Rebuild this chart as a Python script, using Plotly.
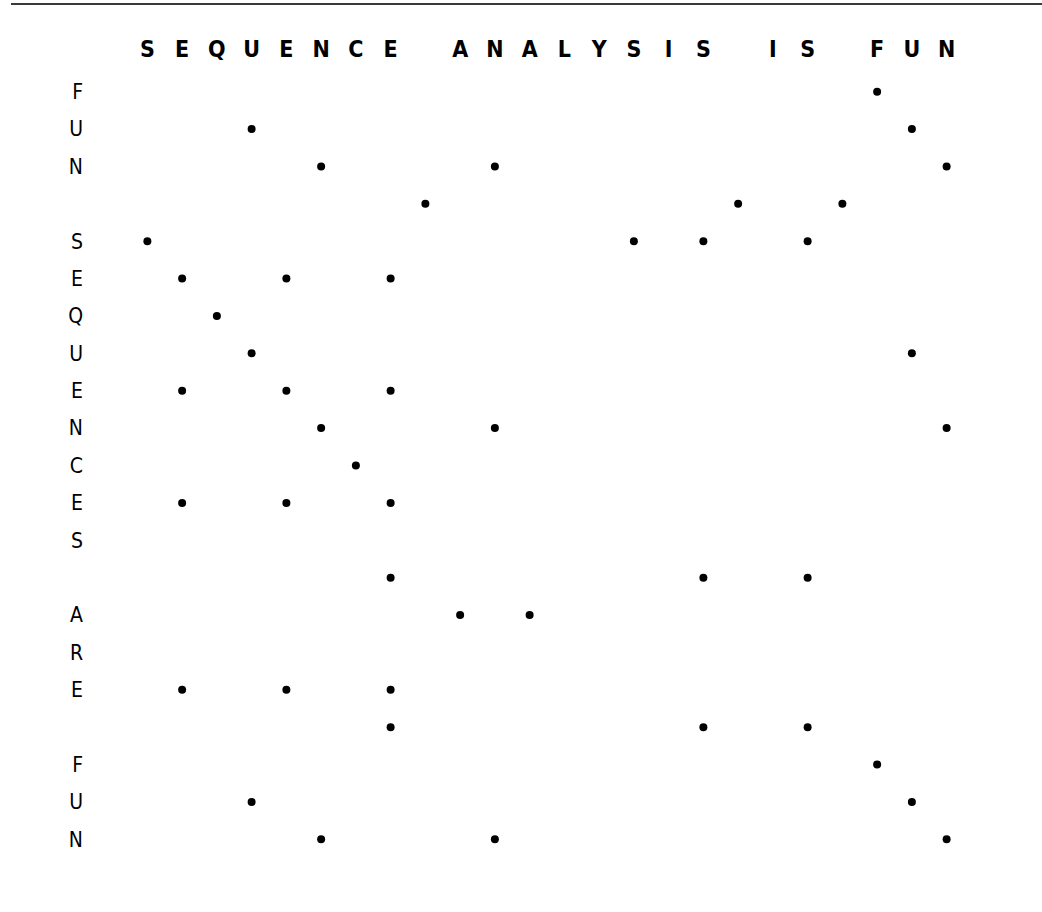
import plotly.graph_objects as go

top_seq = list("SEQUENCE ANALYSIS IS FUN")
left_seq = list("FUN SEQUENCES ARE FUN")

# matched dots: row index (left sequence) -> column indices (top sequence)
dot_rows = [0, 1, 1, 2, 2, 2, 3, 3, 3, 4, 4, 4, 4, 5, 5, 5, 6, 7, 7, 8, 8, 8,
            9, 9, 9, 10, 11, 11, 11, 13, 13, 13, 14, 14, 16, 16, 16, 17, 17, 17,
            18, 19, 19, 20, 20, 20]
dot_cols = [21, 3, 22, 5, 10, 23, 8, 17, 20, 0, 14, 16, 19, 1, 4, 7, 2, 3, 22, 1, 4, 7,
            5, 10, 23, 6, 1, 4, 7, 7, 16, 19, 9, 11, 1, 4, 7, 7, 16, 19,
            21, 3, 22, 5, 10, 23]

FONT = "DejaVu Sans Condensed, Liberation Sans Narrow, DejaVu Sans"

fig = go.Figure(go.Scatter(
    x=dot_cols, y=dot_rows, mode="markers",
    marker=dict(color="black", size=8, line=dict(width=0)),
    hoverinfo="skip",
))

fig.update_layout(
    width=1042, height=912,
    margin=dict(l=130, r=78, t=73, b=54),
    paper_bgcolor="white", plot_bgcolor="white",
    showlegend=False,
    font=dict(family=FONT, size=20, color="black"),
    xaxis=dict(
        range=[-0.5, len(top_seq) - 0.5], side="top",
        tickmode="array", tickvals=list(range(len(top_seq))), ticktext=top_seq,
        showgrid=False, zeroline=False, showline=False, ticks="",
        ticklabelstandoff=10,
        tickfont=dict(family=FONT, size=23, color="black", weight="bold"),
    ),
    yaxis=dict(
        range=[len(left_seq) - 0.5, -0.5],
        tickmode="array", tickvals=list(range(len(left_seq))), ticktext=left_seq,
        showgrid=False, zeroline=False, showline=False, ticks="",
        ticklabelstandoff=46,
        tickfont=dict(family=FONT, size=21, color="black"),
    ),
    shapes=[dict(
        type="line", xref="paper", yref="paper",
        xsizemode="pixel", ysizemode="pixel", xanchor=0, yanchor=1,
        x0=-119, x1=920, y0=69, y1=69,
        line=dict(color="#3a3a3a", width=2),
    )],
)

fig.write_html("out.html", config={"displayModeBar": False},
               post_script="document.body.style.margin='0';")
